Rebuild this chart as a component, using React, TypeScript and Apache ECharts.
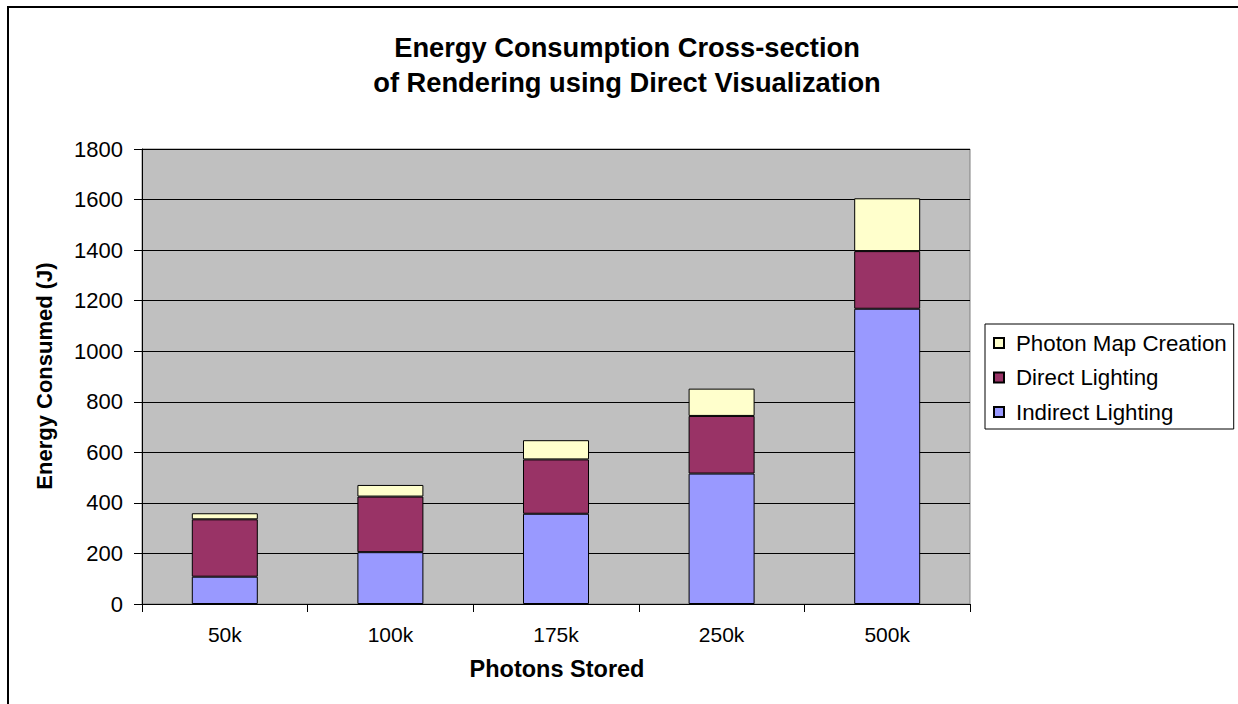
import React, { useEffect, useRef } from "react";
import * as echarts from "echarts";

const categories = ["50k", "100k", "175k", "250k", "500k"];
const indirectLighting = [108, 205, 357, 516, 1168];
const directLighting = [227, 220, 215, 228, 228];
const photonMapCreation = [24, 46, 76, 108, 209];
const yTicks = { min: 0, max: 1800, interval: 200 };

const FONT = "'Liberation Sans', Arial, sans-serif";

export default function App() {
  const ref = useRef<HTMLDivElement>(null);
  useEffect(() => {
    if (!ref.current) return;
    const chart = echarts.init(ref.current, null, { renderer: "svg" });
    const barStyle = (color: string) => ({ color, borderColor: "#000", borderWidth: 1 });
    chart.setOption({
      animation: false,
      backgroundColor: "#fff",
      textStyle: { fontFamily: FONT },
      graphic: [
        {
          type: "rect",
          shape: { x: 8, y: 7, width: 1240, height: 710 },
          style: { fill: "none", stroke: "#000", lineWidth: 2 },
          silent: true,
        },
        {
          type: "text",
          x: 627,
          y: 65,
          style: {
            text: "Energy Consumption Cross-section\nof Rendering using Direct Visualization",
            font: `bold 27.3px ${FONT}`,
            fill: "#000",
            align: "center",
            verticalAlign: "middle",
            lineHeight: 35,
          },
        },
        {
          type: "text",
          x: 44,
          y: 376,
          rotation: Math.PI / 2,
          style: {
            text: "Energy Consumed (J)",
            font: `bold 22px ${FONT}`,
            fill: "#000",
            align: "center",
            verticalAlign: "middle",
          },
        },
        {
          type: "text",
          x: 557,
          y: 669,
          style: {
            text: "Photons Stored",
            font: `bold 23.5px ${FONT}`,
            fill: "#000",
            align: "center",
            verticalAlign: "middle",
          },
        },
      ],
      grid: {
        left: 142,
        right: 268,
        top: 149,
        bottom: 100,
        show: true,
        backgroundColor: "#c0c0c0",
        borderColor: "#808080",
        borderWidth: 1,
      },
      legend: {
        orient: "vertical",
        left: 985,
        top: 324,
        data: ["Photon Map Creation", "Direct Lighting", "Indirect Lighting"],
        itemWidth: 10,
        itemHeight: 10,
        itemGap: 10.5,
        padding: [7, 7, 5, 8],
        borderColor: "#000",
        borderWidth: 1,
        icon: "rect",
        textStyle: { fontSize: 22.3, color: "#000", fontFamily: FONT, lineHeight: 24, padding: [0, 0, 0, 7] },
      },
      xAxis: {
        type: "category",
        data: categories,
        axisLine: { lineStyle: { color: "#000", width: 1 } },
        axisTick: { show: true, length: 8, lineStyle: { color: "#000" } },
        axisLabel: { fontSize: 21, color: "#000", margin: 20, fontFamily: FONT },
      },
      yAxis: {
        type: "value",
        min: yTicks.min,
        max: yTicks.max,
        interval: yTicks.interval,
        axisLine: { show: true, lineStyle: { color: "#000", width: 1 } },
        axisTick: { show: true, length: 8, lineStyle: { color: "#000" } },
        axisLabel: {
          fontSize: 22,
          color: "#000",
          margin: 19,
          fontFamily: FONT,
          formatter: (v: number) => String(v),
        },
        splitLine: { show: true, lineStyle: { color: "#000", width: 1 } },
      },
      series: [
        {
          name: "Indirect Lighting",
          type: "bar",
          stack: "total",
          barWidth: 66,
          data: indirectLighting,
          itemStyle: barStyle("#9999ff"),
        },
        {
          name: "Direct Lighting",
          type: "bar",
          stack: "total",
          barWidth: 66,
          data: directLighting,
          itemStyle: barStyle("#993366"),
        },
        {
          name: "Photon Map Creation",
          type: "bar",
          stack: "total",
          barWidth: 66,
          data: photonMapCreation,
          itemStyle: barStyle("#ffffcc"),
        },
      ],
    });
    return () => chart.dispose();
  }, []);
  return (
    <div
      ref={ref}
      style={{ position: "fixed", left: 0, top: 0, width: 1238, height: 704 }}
    />
  );
}
